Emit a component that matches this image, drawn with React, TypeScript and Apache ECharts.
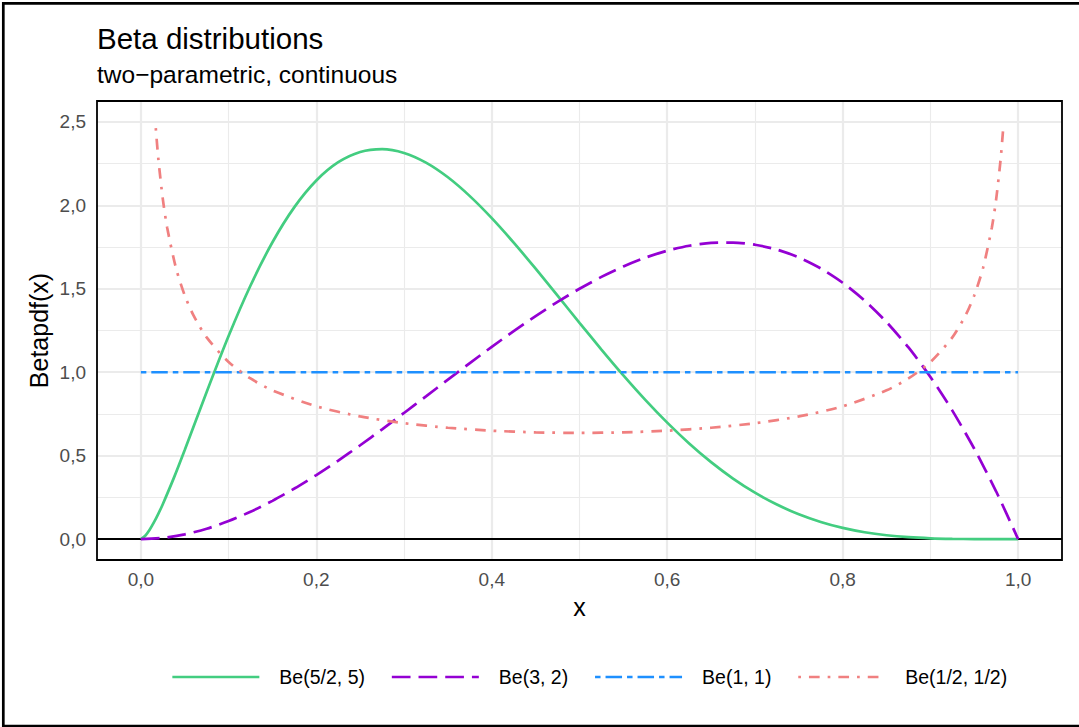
import React, { useEffect, useRef } from "react";
import * as echarts from "echarts";

const TITLE = "Beta distributions";
const SUBTITLE = "two−parametric, continuous";
const X_TITLE = "x";
const Y_TITLE = "Betapdf(x)";

const seriesNames = ["Be(5/2, 5)", "Be(3, 2)", "Be(1, 1)", "Be(1/2, 1/2)"];
const seriesColors = ["#43CD80", "#9400D3", "#1E90FF", "#F08080"];

// Be(5/2, 5)
const beAX = [
  0, 0.005, 0.01, 0.015, 0.02, 0.025, 0.0375, 0.05, 0.075, 0.1, 0.125, 0.15, 0.175, 0.2, 0.225,
  0.25, 0.275, 0.3, 0.325, 0.35, 0.375, 0.4, 0.425, 0.45, 0.475, 0.5, 0.525, 0.55, 0.575, 0.6,
  0.625, 0.65, 0.675, 0.7, 0.725, 0.75, 0.775, 0.8, 0.825, 0.85, 0.875, 0.9, 0.925, 0.95,
  0.975, 1,
];
const beAY = [
  0, 0.0203, 0.0563, 0.1014, 0.153, 0.2095, 0.3655, 0.5341, 0.8819, 1.2169, 1.5194, 1.7786,
  1.9891, 2.1487, 2.2582, 2.3197, 2.3368, 2.3139, 2.2558, 2.1679, 2.0551, 1.923, 1.7763, 1.6201,
  1.4586, 1.296, 1.1358, 0.981, 0.8343, 0.6978, 0.5731, 0.4612, 0.3629, 0.2782, 0.2071, 0.1488,
  0.1026, 0.0671, 0.0412, 0.0233, 0.0117, 0.005, 0.0017, 0.0003, 0.0, 0,
];

// Be(3, 2)
const beBX = [
  0, 0.025, 0.05, 0.075, 0.1, 0.125, 0.15, 0.175, 0.2, 0.225, 0.25, 0.275, 0.3, 0.325, 0.35,
  0.375, 0.4, 0.425, 0.45, 0.475, 0.5, 0.525, 0.55, 0.575, 0.6, 0.625, 0.65, 0.675, 0.7, 0.725,
  0.75, 0.775, 0.8, 0.825, 0.85, 0.875, 0.9, 0.925, 0.95, 0.975, 1,
];
const beBY = [
  0, 0.0073, 0.0285, 0.0624, 0.108, 0.1641, 0.2295, 0.3032, 0.384, 0.4708, 0.5625, 0.6579,
  0.756, 0.8556, 0.9555, 1.0547, 1.152, 1.2463, 1.3365, 1.4214, 1.5, 1.5711, 1.6335, 1.6862,
  1.728, 1.7578, 1.7745, 1.7769, 1.764, 1.7346, 1.6875, 1.6217, 1.536, 1.4293, 1.3005, 1.1484,
  0.972, 0.7701, 0.5415, 0.2852, 0,
];

// Be(1, 1)
const beCX = [0, 1];
const beCY = [1, 1];

// Be(1/2, 1/2)
const beDX = [
  0.017, 0.02, 0.025, 0.03, 0.04, 0.05, 0.06, 0.075, 0.1, 0.125, 0.15, 0.2, 0.25, 0.3, 0.35,
  0.4, 0.45, 0.5, 0.55, 0.6, 0.65, 0.7, 0.75, 0.8, 0.85, 0.875, 0.9, 0.925, 0.94, 0.95, 0.96,
  0.97, 0.975, 0.98, 0.983,
];
const beDY = [
  2.4623, 2.2736, 2.0388, 1.8659, 1.6244, 1.4605, 1.3403, 1.2085, 1.061, 0.9625, 0.8914,
  0.7958, 0.7351, 0.6946, 0.6674, 0.6497, 0.6398, 0.6366, 0.6398, 0.6497, 0.6674, 0.6946,
  0.7351, 0.7958, 0.8914, 0.9625, 1.061, 1.2085, 1.3403, 1.4605, 1.6244, 1.8659, 2.0388,
  2.2736, 2.4623,
];

const xTicks = [0, 0.2, 0.4, 0.6, 0.8, 1.0];
const xMinor = [0.1, 0.3, 0.5, 0.7, 0.9];
const yTicks = [0, 0.5, 1.0, 1.5, 2.0, 2.5];
const yMinor = [0.25, 0.75, 1.25, 1.75, 2.25];

const FONT = "'Liberation Sans', Arial, Helvetica, sans-serif";
const fmt = (v: number) => v.toFixed(1).replace(".", ",");

export default function App() {
  const ref = useRef<HTMLDivElement>(null);
  useEffect(() => {
    if (!ref.current) return;
    const chart = echarts.init(ref.current, undefined, { renderer: "svg" });
    const dashes: any[] = ["solid", [18.7, 8], [5.5, 5, 16.5, 5], [2.7, 8, 10.7, 8]];
    const pairs = [
      beAX.map((x, i) => [x, beAY[i]]),
      beBX.map((x, i) => [x, beBY[i]]),
      beCX.map((x, i) => [x, beCY[i]]),
      beDX.map((x, i) => [x, beDY[i]]),
    ];
    const gridLine = (w: number) => ({ color: "#ebebeb", width: w, type: "solid" });
    const markData: any[] = [
      ...xMinor.map((v) => ({ xAxis: v, lineStyle: gridLine(1.1) })),
      ...yMinor.map((v) => ({ yAxis: v, lineStyle: gridLine(1.1) })),
      ...xTicks.map((v) => ({ xAxis: v, lineStyle: gridLine(2.2) })),
      ...yTicks.map((v) => ({ yAxis: v, lineStyle: gridLine(2.2) })),
      { yAxis: 0, lineStyle: { color: "#000", width: 1.8, type: "solid" } },
    ];
    const textStyle = (text: string, size: number, align: string) => ({
      text,
      fontSize: size,
      fontFamily: FONT,
      fill: "#000",
      align,
      verticalAlign: "middle",
      textAlign: align,
      textVerticalAlign: "middle",
    });
    const option: any = {
      animation: false,
      backgroundColor: "#fff",
      grid: { left: 97, right: 17, top: 101, bottom: 167, show: false },
      xAxis: {
        type: "value",
        min: -0.05,
        max: 1.05,
        axisLine: { show: false },
        axisTick: { show: false, customValues: xTicks },
        splitLine: { show: false },
        axisLabel: {
          customValues: xTicks,
          formatter: fmt,
          margin: 10,
          fontSize: 19,
          color: "#4d4d4d",
          fontFamily: FONT,
        },
      },
      yAxis: {
        type: "value",
        min: -0.125,
        max: 2.625,
        axisLine: { show: false },
        axisTick: { show: false, customValues: yTicks },
        splitLine: { show: false },
        axisLabel: {
          customValues: yTicks,
          formatter: fmt,
          margin: 11,
          fontSize: 19,
          color: "#4d4d4d",
          fontFamily: FONT,
        },
      },
      legend: {
        left: 171,
        top: 667,
        padding: 0,
        itemWidth: 87,
        itemHeight: 14,
        itemGap: 25.5,
        selectedMode: false,
        lineStyle: { width: 2.7 },
        itemStyle: { opacity: 0 },
        textStyle: { fontSize: 19.5, color: "#000", fontFamily: FONT, padding: [0, 0, 0, 15] },
        data: seriesNames.map((n, i) => ({
          name: n,
          itemStyle: { opacity: 0 },
          lineStyle: { width: 2.7, type: dashes[i], color: seriesColors[i] },
        })),
      },
      graphic: [
        { type: "text", x: 97, y: 38, silent: true, style: textStyle(TITLE, 29.5, "left") },
        { type: "text", x: 97, y: 74.5, silent: true, style: textStyle(SUBTITLE, 24.5, "left") },
        { type: "text", x: 579.5, y: 607, silent: true, style: textStyle(X_TITLE, 25, "center") },
        {
          type: "text",
          x: 38.6,
          y: 330.5,
          rotation: Math.PI / 2,
          silent: true,
          style: textStyle(Y_TITLE, 25, "center"),
        },
        {
          type: "rect",
          z: 100,
          silent: true,
          shape: { x: 97, y: 101, width: 965, height: 459 },
          style: { fill: "none", stroke: "#000", lineWidth: 1.8 },
        },
        {
          type: "rect",
          z: 100,
          silent: true,
          shape: { x: 3.3, y: 3.3, width: 1100, height: 722.7 },
          style: { fill: "none", stroke: "#000", lineWidth: 2.7 },
        },
      ],
      series: [
        {
          type: "line",
          name: "__grid",
          data: [[0, 0]],
          symbol: "none",
          lineStyle: { opacity: 0 },
          z: 1,
          silent: true,
          markLine: {
            z: 1,
            silent: true,
            symbol: ["none", "none"],
            label: { show: false },
            emphasis: { disabled: true },
            data: markData,
          },
        },
        ...seriesNames.map((n, i) => ({
          type: "line",
          name: n,
          data: pairs[i],
          symbol: "none",
          smooth: 0.25,
          z: 3,
          silent: true,
          itemStyle: { color: seriesColors[i] },
          lineStyle: { color: seriesColors[i], width: 2.7, type: dashes[i] },
          emphasis: { disabled: true },
        })),
      ],
    };
    chart.setOption(option);
    return () => chart.dispose();
  }, []);
  return (
    <div
      ref={ref}
      style={{ position: "fixed", left: 0, top: 0, width: 1079, height: 727, background: "#fff" }}
    />
  );
}
